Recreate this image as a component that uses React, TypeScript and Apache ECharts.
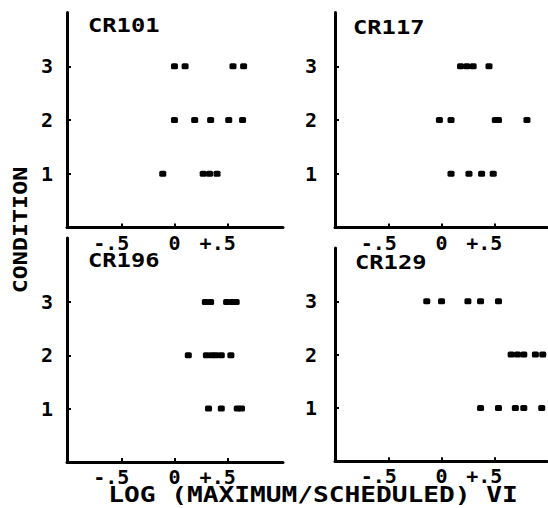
import React, { useEffect, useRef } from "react";
import * as echarts from "echarts";

// ---- data ----
const panelNames = ["CR101", "CR117", "CR196", "CR129"];
const conditionLevels = [1, 2, 3];

const cr101Cond1 = [-0.11, 0.27, 0.33, 0.4];
const cr101Cond2 = [0.0, 0.19, 0.34, 0.51, 0.64];
const cr101Cond3 = [0.0, 0.1, 0.55, 0.65];

const cr117Cond1 = [0.09, 0.26, 0.38, 0.49];
const cr117Cond2 = [-0.02, 0.09, 0.51, 0.54, 0.81];
const cr117Cond3 = [0.18, 0.24, 0.3, 0.45];

const cr196Cond1 = [0.32, 0.44, 0.59, 0.63];
const cr196Cond2 = [0.13, 0.3, 0.35, 0.39, 0.44, 0.53];
const cr196Cond3 = [0.29, 0.34, 0.49, 0.54, 0.58];

const cr129Cond1 = [0.37, 0.54, 0.7, 0.78, 0.95];
const cr129Cond2 = [0.66, 0.72, 0.78, 0.89, 0.96];
const cr129Cond3 = [-0.14, 0.0, 0.25, 0.37, 0.54];

const panelData = [
  [cr101Cond1, cr101Cond2, cr101Cond3],
  [cr117Cond1, cr117Cond2, cr117Cond3],
  [cr196Cond1, cr196Cond2, cr196Cond3],
  [cr129Cond1, cr129Cond2, cr129Cond3],
];

const xTickValues = [-0.5, 0, 0.5];
const xTickLabels = ["-.5", "0", "+.5"];
const yTickValues = [1, 2, 3];
const yTickLabels = ["1", "2", "3"];

const xAxisTitle = "LOG (MAXIMUM/SCHEDULED) VI";
const yAxisTitle = "CONDITION";

// ---- layout ----
const MONO = '"DejaVu Sans Mono", monospace';
const grids = [
  { left: 67, top: 12.5, width: 216, height: 215 },
  { left: 335, top: 12.5, width: 212, height: 215 },
  { left: 67, top: 238, width: 216, height: 223.9 },
  { left: 335, top: 248, width: 212, height: 213.2 },
];
const xRanges = [
  [-1.01, 1.02],
  [-1.01, 1.0],
  [-1.01, 1.02],
  [-1.01, 1.0],
];
const yMax = [4, 4, 4.2, 4];
const titlePos = [
  [88, 16],
  [353, 18],
  [88, 251],
  [355, 253],
];

export default function App() {
  const ref = useRef<HTMLDivElement>(null);

  useEffect(() => {
    if (!ref.current) return;
    const chart = echarts.init(ref.current, undefined, { renderer: "svg" });

    const xLabelFormatter = (v: number) => {
      const i = xTickValues.findIndex((t) => Math.abs(t - v) < 1e-6);
      if (i < 0) return "";
      const s = xTickLabels[i];
      return v === 0 ? `{z|${s}}` : `{s|${s}}`;
    };
    const labelFont = { fontFamily: MONO, fontWeight: "bold" as const, fontSize: 20, color: "#000" };

    const xAxes = grids.map((_, i) => ({
      type: "value",
      gridIndex: i,
      min: xRanges[i][0],
      max: xRanges[i][1],
      axisLine: { show: true, onZero: false, lineStyle: { color: "#000", width: 3 } },
      axisTick: {
        show: true,
        inside: true,
        length: 4,
        customValues: xTickValues,
        lineStyle: { color: "#000", width: 2 },
      },
      axisLabel: {
        show: true,
        customValues: xTickValues,
        formatter: xLabelFormatter,
        margin: 5,
        ...labelFont,
        rich: {
          z: { ...labelFont },
          s: { ...labelFont, padding: [0, 20, 0, 0] },
        },
      },
      splitLine: { show: false },
    }));

    const yAxes = grids.map((_, i) => ({
      type: "value",
      gridIndex: i,
      min: 0,
      max: yMax[i],
      axisLine: { show: true, onZero: false, lineStyle: { color: "#000", width: 3 } },
      axisTick: {
        show: true,
        inside: true,
        length: 4,
        customValues: yTickValues,
        lineStyle: { color: "#000", width: 2 },
      },
      axisLabel: {
        show: true,
        customValues: yTickValues,
        formatter: (v: number) => {
          const i2 = yTickValues.indexOf(v);
          return i2 >= 0 ? yTickLabels[i2] : "";
        },
        margin: i % 2 === 0 ? 14 : 18,
        ...labelFont,
      },
      splitLine: { show: false },
    }));

    const series = panelData.map((conds, i) => ({
      type: "scatter",
      xAxisIndex: i,
      yAxisIndex: i,
      symbol: "roundRect",
      symbolSize: [7, 6],
      itemStyle: { color: "#000", opacity: 1 },
      data: conds.flatMap((xs, ci) => xs.map((x) => [x, conditionLevels[ci]])),
    }));

    const graphic: any[] = panelNames.map((name, i) => ({
      type: "text",
      x: titlePos[i][0],
      y: titlePos[i][1],
      scaleX: 1.25,
      style: {
        text: name,
        font: `bold 19px ${MONO}`,
        fill: "#000",
        align: "left",
        verticalAlign: "top",
      },
    }));
    graphic.push({
      type: "text",
      x: 20,
      y: 230,
      rotation: Math.PI / 2,
      scaleX: 1.17,
      style: {
        text: yAxisTitle,
        font: `bold 20px ${MONO}`,
        fill: "#000",
        align: "center",
        verticalAlign: "middle",
      },
    });
    graphic.push({
      type: "text",
      x: 313,
      y: 495,
      scaleX: 1.19,
      style: {
        text: xAxisTitle,
        font: `bold 22px ${MONO}`,
        fill: "#000",
        align: "center",
        verticalAlign: "middle",
      },
    });

    chart.setOption({
      animation: false,
      backgroundColor: "#fff",
      grid: grids.map((g) => ({ ...g, containLabel: false })),
      xAxis: xAxes,
      yAxis: yAxes,
      series,
      graphic,
    } as any);

    return () => chart.dispose();
  }, []);

  return (
    <div
      ref={ref}
      style={{ position: "absolute", left: 0, top: 0, width: 548, height: 508 }}
    />
  );
}
